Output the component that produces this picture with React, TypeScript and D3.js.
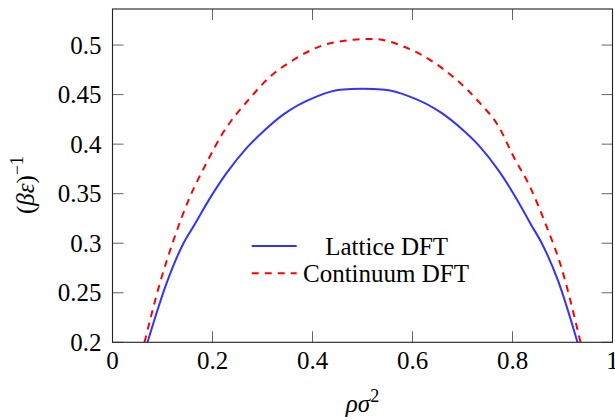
import React from "react";
import * as d3 from "d3";

const latticeRho = [0.0700, 0.1084, 0.142, 0.162, 0.195, 0.228, 0.268, 0.302, 0.342, 0.408, 0.455, 0.500, 0.545, 0.592, 0.658, 0.698, 0.732, 0.772, 0.805, 0.838, 0.858, 0.8916, 0.9300];
const latticeT = [0.200, 0.260, 0.300, 0.317, 0.3455, 0.3707, 0.396, 0.413, 0.430, 0.448, 0.4548, 0.456, 0.4548, 0.4485, 0.4315, 0.4155, 0.399, 0.3735, 0.3475, 0.318, 0.3005, 0.2615, 0.200];

const contRho = [0.064, 0.095, 0.122, 0.155, 0.188, 0.218, 0.275, 0.315, 0.362, 0.422, 0.475, 0.500, 0.525, 0.582, 0.635, 0.688, 0.735, 0.772, 0.802, 0.835, 0.868, 0.895, 0.936];
const contT = [0.200, 0.260, 0.303, 0.347, 0.381, 0.409, 0.4465, 0.468, 0.485, 0.500, 0.505, 0.506, 0.506, 0.4986, 0.485, 0.465, 0.4414, 0.418, 0.3875, 0.357, 0.317, 0.280, 0.200];

const xTicks = [0, 0.2, 0.4, 0.6, 0.8, 1];
const xTickLabels = ["0", "0.2", "0.4", "0.6", "0.8", "1"];
const yTicks = [0.2, 0.25, 0.3, 0.35, 0.4, 0.45, 0.5];
const yTickLabels = ["0.2", "0.25", "0.3", "0.35", "0.4", "0.45", "0.5"];
const legendLabels = ["Lattice DFT", "Continuum DFT"];

const W = 615;
const H = 420;
const L = 112.5;
const R = 612.5;
const T = 9;
const B = 342.3;
const FONT = "'Liberation Serif', 'Times New Roman', serif";

export default function App() {
  const x = d3.scaleLinear().domain([0, 1]).range([L, R]);
  const y = d3.scaleLinear().domain([0.2, 0.5364]).range([B, T]);
  const smooth = d3
    .line<[number, number]>()
    .x((d) => x(d[0]))
    .y((d) => y(d[1]))
    .curve(d3.curveMonotoneX);
  const lat: [number, number][] = latticeRho.map((r, i) => [r, latticeT[i]]);
  const con: [number, number][] = contRho.map((r, i) => [r, contT[i]]);
  const tickLen = 11;
  const ts = { fontFamily: FONT, fontSize: 25 };

  return (
    <svg
      width={W}
      height={H}
      style={{ position: "absolute", left: 0, top: 0, background: "#fff", fontFamily: FONT }}
    >
      <defs>
        <clipPath id="plotclip">
          <rect x={L} y={T} width={R - L} height={B - T} />
        </clipPath>
      </defs>
      <rect x={0} y={0} width={W} height={H} fill="#fff" />
      {xTicks.map((t, i) => (
        <g key={"xt" + i}>
          <line x1={x(t)} x2={x(t)} y1={B} y2={B - tickLen} stroke="#555" strokeWidth={0.9} />
          <line x1={x(t)} x2={x(t)} y1={T} y2={T + tickLen} stroke="#555" strokeWidth={0.9} />
          <text x={x(t)} y={369} style={ts} textAnchor="middle" fill="#000">
            {xTickLabels[i]}
          </text>
        </g>
      ))}
      {yTicks.map((t, i) => (
        <g key={"yt" + i}>
          <line x1={L} x2={L + tickLen} y1={y(t)} y2={y(t)} stroke="#555" strokeWidth={0.9} />
          <line x1={R} x2={R - tickLen} y1={y(t)} y2={y(t)} stroke="#555" strokeWidth={0.9} />
          <text x={101.5} y={y(t)} style={ts} textAnchor="end" dominantBaseline="central" fill="#000">
            {yTickLabels[i]}
          </text>
        </g>
      ))}
      <g clipPath="url(#plotclip)">
        <path d={smooth(lat) || ""} fill="none" stroke="#3333ff" strokeWidth={2} />
        <path d={smooth(con) || ""} fill="none" stroke="#ff0000" strokeWidth={2} strokeDasharray="7,6" />
      </g>
      <rect x={L} y={T} width={R - L} height={B - T} fill="none" stroke="#222" strokeWidth={1.1} />
      <line x1={251.7} x2={296.7} y1={246} y2={246} stroke="#3333ff" strokeWidth={2} />
      <text x={386.7} y={246} style={ts} textAnchor="middle" dominantBaseline="central" fill="#000">
        {legendLabels[0]}
      </text>
      <line x1={251.7} x2={296.7} y1={273.3} y2={273.3} stroke="#ff0000" strokeWidth={2} strokeDasharray="7,6" />
      <text x={386} y={273.3} style={ts} textAnchor="middle" dominantBaseline="central" fill="#000">
        {legendLabels[1]}
      </text>
      <text x={362.5} y={411.5} style={ts} textAnchor="middle" fill="#000" fontStyle="italic">
        ρσ<tspan dy={-10} fontSize={18} fontStyle="normal">2</tspan>
      </text>
      <text transform="translate(34,185) rotate(-90)" style={ts} textAnchor="middle" fill="#000">
        (<tspan fontStyle="italic">βε</tspan>)<tspan dy={-11} fontSize={18}>−1</tspan>
      </text>
    </svg>
  );
}
